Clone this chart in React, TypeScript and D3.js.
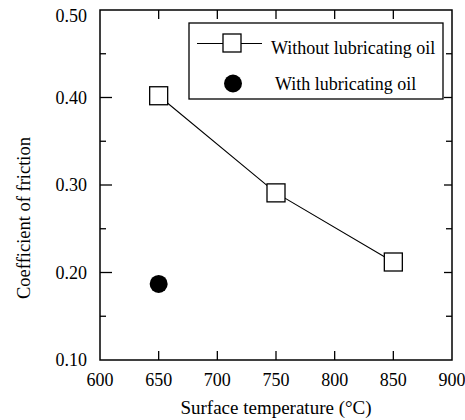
import { useEffect, useRef } from 'react';
import * as d3 from 'd3';

// data
const temperatures = [650, 750, 850];
const withoutOil = [0.402, 0.291, 0.212];
const withOilTemps = [650];
const withOil = [0.187];
const xTicks = [600, 650, 700, 750, 800, 850, 900];
const yTicks = [0.1, 0.2, 0.3, 0.4, 0.5];
const yMinorTicks = [0.15, 0.25, 0.35, 0.45];

export default function App() {
  const svgRef = useRef<SVGSVGElement>(null);

  useEffect(() => {
    const svg = d3.select(svgRef.current);
    svg.selectAll('*').remove();

    const margin = { top: 10, right: 13, bottom: 60, left: 100 };
    const W = 465, H = 420;
    const width = W - margin.left - margin.right;
    const height = H - margin.top - margin.bottom;

    const g = svg.append('g').attr('transform', `translate(${margin.left},${margin.top})`);

    const x = d3.scaleLinear().domain([600, 900]).range([0, width]);
    const y = d3.scaleLinear().domain([0.1, 0.5]).range([height, 0]);

    // frame
    g.append('rect')
      .attr('width', width).attr('height', height)
      .attr('fill', 'none').attr('stroke', '#000').attr('stroke-width', 1.5);

    // ticks (inside)
    const inner = g.append('g').attr('stroke', '#000').attr('stroke-width', 1.3);
    xTicks.slice(1, -1).forEach(t => {
      inner.append('line').attr('x1', x(t)).attr('x2', x(t)).attr('y1', height).attr('y2', height - 9);
      inner.append('line').attr('x1', x(t)).attr('x2', x(t)).attr('y1', 0).attr('y2', 9);
    });
    yTicks.slice(1, -1).forEach(t => {
      inner.append('line').attr('x1', 0).attr('x2', 12).attr('y1', y(t)).attr('y2', y(t));
      inner.append('line').attr('x1', width).attr('x2', width - 8).attr('y1', y(t)).attr('y2', y(t));
    });
    yMinorTicks.forEach(t => {
      inner.append('line').attr('x1', 0).attr('x2', 6).attr('y1', y(t)).attr('y2', y(t));
      inner.append('line').attr('x1', width).attr('x2', width - 6).attr('y1', y(t)).attr('y2', y(t));
    });

    // tick labels
    g.selectAll('.xl').data(xTicks).enter().append('text')
      .attr('x', d => x(d)).attr('y', height + 26)
      .attr('text-anchor', 'middle')
      .attr('font-size', 18)
      .text(d => d);
    g.selectAll('.yl').data(yTicks).enter().append('text')
      .attr('x', -13).attr('y', d => Math.max(y(d) + 6, 12))
      .attr('text-anchor', 'end')
      .attr('font-size', 18)
      .text(d => d3.format('.2f')(d));

    // axis titles
    g.append('text')
      .attr('x', 176).attr('y', height + 54)
      .attr('text-anchor', 'middle')
      .attr('font-size', 19)
      .text('Surface temperature (°C)');
    g.append('text')
      .attr('transform', `translate(${-70},${208}) rotate(-90)`)
      .attr('text-anchor', 'middle')
      .attr('font-size', 18.5)
      .text('Coefficient of friction');

    // series: without lubricating oil
    const pts = temperatures.map((t, i) => [t, withoutOil[i]] as [number, number]);
    const line = d3.line<[number, number]>().x(d => x(d[0])).y(d => y(d[1]));
    g.append('path').datum(pts)
      .attr('d', line).attr('fill', 'none').attr('stroke', '#000').attr('stroke-width', 1.1);
    const sq = 18;
    g.selectAll('.sq').data(pts).enter().append('rect')
      .attr('x', d => x(d[0]) - sq / 2).attr('y', d => y(d[1]) - sq / 2)
      .attr('width', sq).attr('height', sq)
      .attr('fill', '#fff').attr('stroke', '#000').attr('stroke-width', 1.3);

    // series: with lubricating oil
    g.selectAll('.dot').data(withOilTemps).enter().append('circle')
      .attr('cx', d => x(d)).attr('cy', (d, i) => y(withOil[i]))
      .attr('r', 9).attr('fill', '#000');

    // legend
    const lg = g.append('g').attr('transform', `translate(${89},${13})`);
    lg.append('rect').attr('width', 254).attr('height', 76)
      .attr('fill', '#fff').attr('stroke', '#000').attr('stroke-width', 1.3);
    lg.append('line').attr('x1', 8).attr('x2', 73).attr('y1', 20.5).attr('y2', 20.5)
      .attr('stroke', '#000').attr('stroke-width', 1.1);
    lg.append('rect').attr('x', 34).attr('y', 11).attr('width', sq).attr('height', sq)
      .attr('fill', '#fff').attr('stroke', '#000').attr('stroke-width', 1.3);
    lg.append('text').attr('x', 82).attr('y', 31)
      .attr('font-size', 18)
      .text('Without lubricating oil');
    lg.append('circle').attr('cx', 44).attr('cy', 60.5).attr('r', 9).attr('fill', '#000');
    lg.append('text').attr('x', 86).attr('y', 67)
      .attr('font-size', 18)
      .text('With lubricating oil');
  }, []);

  return (
    <div style={{ width: 465, height: 420, position: 'absolute', left: 0, top: 0, background: '#fff' }}>
      <svg ref={svgRef} width={465} height={420} fontFamily="'Liberation Serif', 'DejaVu Serif', serif"></svg>
    </div>
  );
}
